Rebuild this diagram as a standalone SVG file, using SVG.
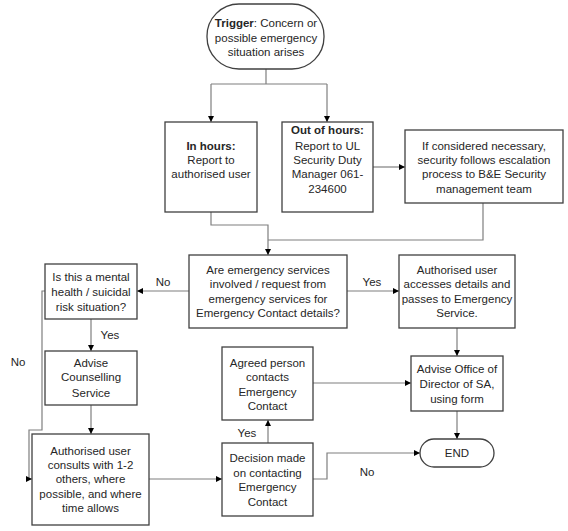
<svg xmlns="http://www.w3.org/2000/svg" width="568" height="531" viewBox="0 0 568 531">
<style>
.box{fill:#fff;stroke:#404040;stroke-width:1.3}
.t{font-family:"Liberation Sans",Arial,sans-serif;font-size:11.5px;fill:#262626;text-anchor:middle}
.b{font-weight:bold}
.c{fill:none;stroke:#7f7f7f;stroke-width:1.2}
.lbl{font-family:"Liberation Sans",Arial,sans-serif;font-size:11.5px;fill:#262626;text-anchor:middle}
</style>
<defs>
<marker id="ah" viewBox="0 0 6 6" refX="6" refY="3" markerWidth="6" markerHeight="6" markerUnits="userSpaceOnUse" orient="auto">
<path d="M0,0 L6,3 L0,6 Z" fill="#000"/>
</marker>
</defs>
<rect width="568" height="531" fill="#fff"/>
<g id="connectors">
<path class="c" d="M266,69 V84 M211,84 H327"/>
<path class="c" d="M211,84 V122" marker-end="url(#ah)"/>
<path class="c" d="M327,84 V122" marker-end="url(#ah)"/>
<path class="c" d="M373,167 H405" marker-end="url(#ah)"/>
<path class="c" d="M211,212 V225 H268 V255" marker-end="url(#ah)"/>
<path class="c" d="M483,203 V240 H268"/>
<path class="c" d="M189,291 H137" marker-end="url(#ah)"/>
<path class="c" d="M347,291 H399" marker-end="url(#ah)"/>
<path class="c" d="M91,319 V351" marker-end="url(#ah)"/>
<path class="c" d="M45,291 H42 V430 H29 V479 H32" marker-end="url(#ah)"/>
<path class="c" d="M91,405 V434" marker-end="url(#ah)"/>
<path class="c" d="M149,479 H222" marker-end="url(#ah)"/>
<path class="c" d="M268,443 V420" marker-end="url(#ah)"/>
<path class="c" d="M313,383 H411" marker-end="url(#ah)"/>
<path class="c" d="M457,328 V356" marker-end="url(#ah)"/>
<path class="c" d="M457,411 V439" marker-end="url(#ah)"/>
<path class="c" d="M313,479 H327 V453 H420" marker-end="url(#ah)"/>
<text class="lbl" x="163" y="286">No</text>
<text class="lbl" x="372" y="286">Yes</text>
<text class="lbl" x="110" y="339">Yes</text>
<text class="lbl" x="18" y="366">No</text>
<text class="lbl" x="247" y="437">Yes</text>
<text class="lbl" x="367" y="476">No</text>
</g>
<g id="trigger">
<rect class="box" x="207" y="4" width="117" height="65" rx="32" ry="32"/>
<text class="t" x="266" y="27"><tspan class="b">Trigger</tspan>: Concern or</text>
<text class="t" x="266" y="42">possible emergency</text>
<text class="t" x="266" y="56">situation arises</text>
</g>
<g id="in-hours">
<rect class="box" x="165" y="122" width="92" height="90"/>
<text class="t b" x="211" y="150">In hours:</text>
<text class="t" x="211" y="164">Report to</text>
<text class="t" x="211" y="178">authorised user</text>
</g>
<g id="out-of-hours">
<rect class="box" x="282" y="122" width="91" height="90"/>
<text class="t b" x="327.5" y="134">Out of hours:</text>
<text class="t" x="327.5" y="150">Report to UL</text>
<text class="t" x="327.5" y="164">Security Duty</text>
<text class="t" x="327.5" y="178">Manager 061-</text>
<text class="t" x="327.5" y="193">234600</text>
</g>
<g id="escalation">
<rect class="box" x="405" y="130" width="158" height="73"/>
<text class="t" x="484" y="150">If considered necessary,</text>
<text class="t" x="484" y="164">security follows escalation</text>
<text class="t" x="484" y="178">process to B&amp;E Security</text>
<text class="t" x="484" y="193">management team</text>
</g>
<g id="emergency-question">
<rect class="box" x="189" y="255" width="158" height="73"/>
<text class="t" x="268" y="274">Are emergency services</text>
<text class="t" x="268" y="288">involved / request from</text>
<text class="t" x="268" y="303">emergency services for</text>
<text class="t" x="268" y="317">Emergency Contact details?</text>
</g>
<g id="authorised-access">
<rect class="box" x="399" y="255" width="116" height="73"/>
<text class="t" x="457" y="274">Authorised user</text>
<text class="t" x="457" y="288">accesses details and</text>
<text class="t" x="457" y="303">passes to Emergency</text>
<text class="t" x="457" y="317">Service.</text>
</g>
<g id="mental-health">
<rect class="box" x="45" y="264" width="92" height="55"/>
<text class="t" x="91" y="281">Is this a mental</text>
<text class="t" x="91" y="296">health / suicidal</text>
<text class="t" x="91" y="311">risk situation?</text>
</g>
<g id="counselling">
<rect class="box" x="45" y="351" width="92" height="54"/>
<text class="t" x="91" y="367">Advise</text>
<text class="t" x="91" y="381">Counselling</text>
<text class="t" x="91" y="397">Service</text>
</g>
<g id="consult">
<rect class="box" x="32" y="434" width="117" height="91"/>
<text class="t" x="90.5" y="455">Authorised user</text>
<text class="t" x="90.5" y="469">consults with 1-2</text>
<text class="t" x="90.5" y="483">others, where</text>
<text class="t" x="90.5" y="498">possible, and where</text>
<text class="t" x="90.5" y="512">time allows</text>
</g>
<g id="decision">
<rect class="box" x="222" y="443" width="91" height="73"/>
<text class="t" x="267.5" y="462">Decision made</text>
<text class="t" x="267.5" y="477">on contacting</text>
<text class="t" x="267.5" y="491">Emergency</text>
<text class="t" x="267.5" y="506">Contact</text>
</g>
<g id="agreed-person">
<rect class="box" x="222" y="347" width="91" height="73"/>
<text class="t" x="267.5" y="367">Agreed person</text>
<text class="t" x="267.5" y="381">contacts</text>
<text class="t" x="267.5" y="396">Emergency</text>
<text class="t" x="267.5" y="410">Contact</text>
</g>
<g id="advise-office">
<rect class="box" x="411" y="356" width="92" height="55"/>
<text class="t" x="457" y="373">Advise Office of</text>
<text class="t" x="457" y="388">Director of SA,</text>
<text class="t" x="457" y="403">using form</text>
</g>
<g id="end">
<rect class="box" x="420" y="439" width="74" height="28" rx="14" ry="14"/>
<text class="t" x="457" y="457">END</text>
</g>
</svg>
